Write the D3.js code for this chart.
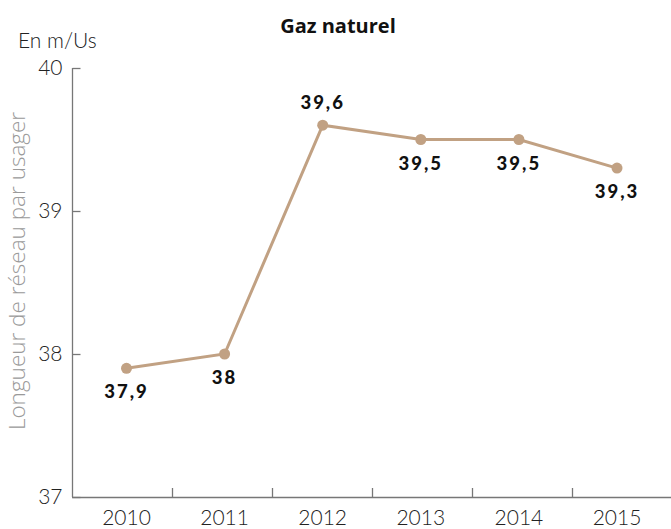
<!DOCTYPE html>
<html>
<head>
<meta charset="utf-8">
<script src="https://cdn.jsdelivr.net/npm/d3@7"></script>
<style>
  body { margin: 0; background: #fff; }
  svg { display: block; font-family: Lato, "Open Sans", sans-serif; }
</style>
</head>
<body>
<div id="chart"></div>
<script>
// data
var years = ['2010', '2011', '2012', '2013', '2014', '2015'];
var values = [37.9, 38, 39.6, 39.5, 39.5, 39.3];
var valueLabels = ['37,9', '38', '39,6', '39,5', '39,5', '39,3'];
var labelSide = ['below', 'below', 'above', 'below', 'below', 'below'];
var yTicks = [37, 38, 39, 40];

var width = 671, height = 529;
var lineColor = '#c1a183';

var svg = d3.select('#chart').append('svg')
    .attr('width', width)
    .attr('height', height);

var y = d3.scaleLinear().domain([37, 40]).range([497, 68]);
var x = d3.scalePoint().domain(years).range([126.5, 617]);
var xBand = d3.scaleBand().domain(years).range([72, 672]);

// title + unit
svg.append('text')
    .attr('x', 338).attr('y', 33)
    .attr('text-anchor', 'middle')
    .attr('font-family', '"Open Sans", sans-serif')
    .attr('font-size', 20).attr('font-weight', 700)
    .attr('fill', '#111')
    .text('Gaz naturel');

svg.append('text')
    .attr('x', 18).attr('y', 48)
    .attr('font-size', 21).attr('font-weight', 300)
    .attr('fill', '#222')
    .text('En m/Us');

svg.append('text')
    .attr('transform', 'translate(25,271) rotate(-90)')
    .attr('text-anchor', 'middle')
    .attr('font-family', '"Open Sans", sans-serif')
    .attr('font-size', 22.5).attr('font-weight', 300)
    .attr('fill', '#9a9a9a')
    .text('Longueur de réseau par usager');

// y axis
var yAxis = svg.append('g')
    .attr('transform', 'translate(72.5,0)')
    .call(d3.axisLeft(y).tickValues(yTicks).tickSize(-8).tickPadding(10).tickFormat(d3.format('d')));
yAxis.select('.domain').remove();
yAxis.selectAll('.tick line').attr('stroke', '#777').attr('stroke-width', 1.3);
yAxis.selectAll('.tick text')
    .attr('font-family', 'Lato, sans-serif')
    .attr('font-size', 21).attr('font-weight', 300)
    .attr('fill', '#222');

svg.append('line')
    .attr('x1', 72.5).attr('x2', 72.5)
    .attr('y1', y(40)).attr('y2', y(37))
    .attr('stroke', '#777').attr('stroke-width', 1.3);

// x axis
svg.append('line')
    .attr('x1', 72).attr('x2', width)
    .attr('y1', y(37) + 0.5).attr('y2', y(37) + 0.5)
    .attr('stroke', '#777').attr('stroke-width', 1.3);

svg.selectAll('.xtick')
    .data(years.slice(1))
    .enter().append('line')
    .attr('class', 'xtick')
    .attr('x1', function (d) { return Math.round(xBand(d)) + 0.5; })
    .attr('x2', function (d) { return Math.round(xBand(d)) + 0.5; })
    .attr('y1', y(37)).attr('y2', y(37) - 9)
    .attr('stroke', '#777').attr('stroke-width', 1.3);

svg.selectAll('.xlabel')
    .data(years)
    .enter().append('text')
    .attr('class', 'xlabel')
    .attr('x', function (d) { return x(d); })
    .attr('y', 525)
    .attr('text-anchor', 'middle')
    .attr('font-size', 21).attr('font-weight', 300)
    .attr('fill', '#222')
    .text(function (d) { return d; });

// line + points
var line = d3.line()
    .x(function (d, i) { return x(years[i]); })
    .y(function (d) { return y(d); });

svg.append('path')
    .datum(values)
    .attr('d', line)
    .attr('fill', 'none')
    .attr('stroke', lineColor)
    .attr('stroke-width', 3);

svg.selectAll('.dot')
    .data(values)
    .enter().append('circle')
    .attr('class', 'dot')
    .attr('cx', function (d, i) { return x(years[i]); })
    .attr('cy', function (d) { return y(d); })
    .attr('r', 5.5)
    .attr('fill', lineColor);

svg.selectAll('.vlabel')
    .data(values)
    .enter().append('text')
    .attr('class', 'vlabel')
    .attr('x', function (d, i) { return x(years[i]); })
    .attr('y', function (d, i) { return y(d) + (labelSide[i] === 'above' ? -16 : 30); })
    .attr('text-anchor', 'middle')
    .attr('font-size', 18.5).attr('font-weight', 900)
    .attr('letter-spacing', 2)
    .attr('fill', '#111')
    .text(function (d, i) { return valueLabels[i]; });
</script>
</body>
</html>
